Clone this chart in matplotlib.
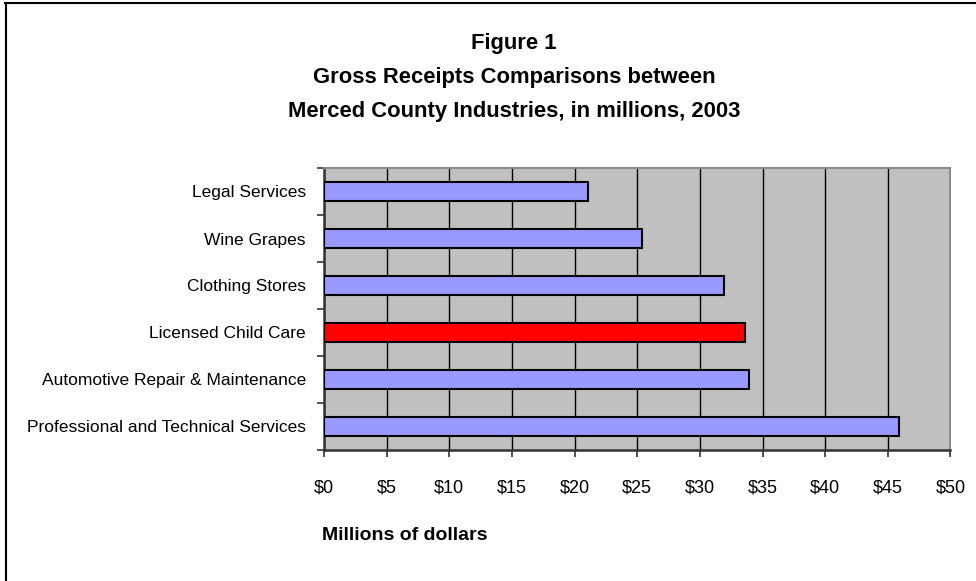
import matplotlib
matplotlib.use("Agg")
import matplotlib.pyplot as plt
from matplotlib import font_manager
from matplotlib.ticker import FixedLocator, FuncFormatter
from matplotlib.lines import Line2D

categories = [
    "Professional and Technical Services",
    "Automotive Repair & Maintenance",
    "Licensed Child Care",
    "Clothing Stores",
    "Wine Grapes",
    "Legal Services",
]
values = [45.9, 33.9, 33.6, 31.9, 25.4, 21.1]
bar_colors = ["#9999FF", "#9999FF", "#FF0000", "#9999FF", "#9999FF", "#9999FF"]
x_ticks = [0, 5, 10, 15, 20, 25, 30, 35, 40, 45, 50]
title_lines = ["Figure 1", "Gross Receipts Comparisons between",
               "Merced County Industries, in millions, 2003"]
x_label = "Millions of dollars"

names = {f.name for f in font_manager.fontManager.ttflist}
fam = "Liberation Sans" if "Liberation Sans" in names else "DejaVu Sans"
plt.rcParams["font.family"] = [fam, "DejaVu Sans"]

fig = plt.figure(figsize=(9.76, 5.81), dpi=100)
ax = fig.add_axes([324 / 976, 1 - 450 / 581, (950.5 - 324) / 976, (450 - 168) / 581])
ax.set_facecolor("#C0C0C0")

ypos = list(range(len(categories)))
ax.barh(ypos, values, height=0.41, color=bar_colors, edgecolor="black",
        linewidth=1.5, zorder=3)

ax.set_xlim(0, 50)
ax.set_ylim(-0.5, len(categories) - 0.5)
ax.xaxis.set_major_locator(FixedLocator(x_ticks))
ax.xaxis.set_major_formatter(FuncFormatter(lambda v, p: f"${v:.0f}"))
ax.grid(axis="x", color="black", linewidth=1.0, zorder=1)
ax.set_axisbelow(True)

ax.set_yticks(ypos)
ax.set_yticklabels(categories, fontsize=12.5)
ax.set_yticks([i - 0.5 for i in range(len(categories) + 1)], minor=True)
ax.tick_params(axis="y", which="major", length=0, pad=13)
ax.tick_params(axis="y", which="minor", length=5, width=1.2, color="#333333", direction="out")
ax.tick_params(axis="x", which="major", length=5, width=1.2, color="#333333",
               direction="out", labelsize=13, pad=16)

for s in ["left", "bottom"]:
    ax.spines[s].set_color("#333333")
    ax.spines[s].set_linewidth(1.8)
for s in ["top", "right"]:
    ax.spines[s].set_color("#8C8C8C")
    ax.spines[s].set_linewidth(1.5)

title_y = [44, 78, 112]
for t, y in zip(title_lines, title_y):
    fig.text(514 / 976, 1 - y / 581, t, ha="center", va="center",
             fontsize=15.8, fontweight="bold")

fig.text(322 / 976, 1 - 536 / 581, x_label, ha="left", va="center",
         fontsize=14, fontweight="bold")

# figure border (top and left visible)
fig.add_artist(Line2D([5 / 976, 1.0], [1 - 3 / 581, 1 - 3 / 581], color="black",
                      linewidth=1.5, transform=fig.transFigure))
fig.add_artist(Line2D([6 / 976, 6 / 976], [1 - 3 / 581, 0], color="black",
                      linewidth=1.5, transform=fig.transFigure))

fig.savefig("out.png", dpi=100)
